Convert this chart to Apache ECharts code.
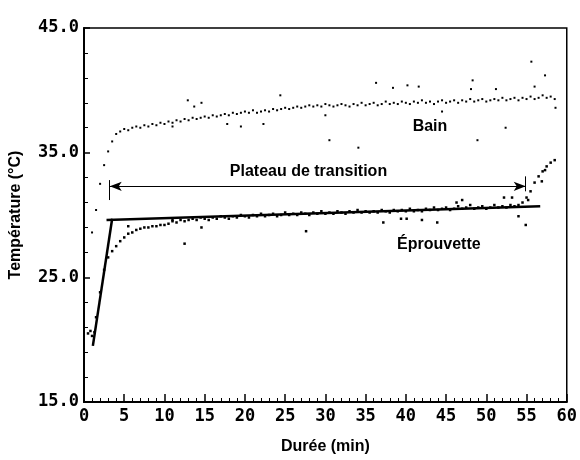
<!DOCTYPE html>
<html>
<head>
<meta charset="utf-8">
<script src="https://cdn.jsdelivr.net/npm/echarts@6/dist/echarts.min.js"></script>
<style>
  html, body { margin: 0; padding: 0; background: #fff; }
  #chart { width: 580px; height: 460px; }
</style>
</head>
<body>
<div id="chart"></div>
<script>
// temps en minutes (pas de 0.5 min)
var tempsMin = [0.5, 1.0, 1.5, 2.0, 2.5, 3.0, 3.5, 4.0, 4.5, 5.0, 5.5, 6.0, 6.5, 7.0, 7.5, 8.0, 8.5, 9.0, 9.5, 10.0,
  10.5, 11.0, 11.5, 12.0, 12.5, 13.0, 13.5, 14.0, 14.5, 15.0, 15.5, 16.0, 16.5, 17.0, 17.5, 18.0, 18.5, 19.0, 19.5, 20.0,
  20.5, 21.0, 21.5, 22.0, 22.5, 23.0, 23.5, 24.0, 24.5, 25.0, 25.5, 26.0, 26.5, 27.0, 27.5, 28.0, 28.5, 29.0, 29.5, 30.0,
  30.5, 31.0, 31.5, 32.0, 32.5, 33.0, 33.5, 34.0, 34.5, 35.0, 35.5, 36.0, 36.5, 37.0, 37.5, 38.0, 38.5, 39.0, 39.5, 40.0,
  40.5, 41.0, 41.5, 42.0, 42.5, 43.0, 43.5, 44.0, 44.5, 45.0, 45.5, 46.0, 46.5, 47.0, 47.5, 48.0, 48.5, 49.0, 49.5, 50.0,
  50.5, 51.0, 51.5, 52.0, 52.5, 53.0, 53.5, 54.0, 54.5, 55.0, 55.5, 56.0, 56.5, 57.0, 57.5, 58.0, 58.5]

// température du bain (°C)
var bain = [null, 28.6, 30.4, 32.5, 34.0, 35.1, 35.9, 36.5, 36.7, 36.9, 36.8, 37.0, 37.1, 37.0, 37.2, 37.1, 37.3, 37.2, 37.4, 37.3,
  37.5, 37.4, 37.6, 37.5, 37.7, 37.6, 37.8, 37.7, 37.8, 37.9, 37.8, 38.0, 37.9, 38.0, 38.1, 38.0, 38.2, 38.1, 38.2, 38.3,
  38.2, 38.4, 38.2, 38.3, 38.4, 38.3, 38.5, 38.4, 38.5, 38.6, 38.5, 38.6, 38.7, 38.6, 38.7, 38.8, 38.7, 38.8, 38.7, 38.9,
  38.8, 38.7, 38.8, 38.9, 38.8, 38.7, 38.9, 38.8, 39.0, 38.8, 38.9, 39.0, 38.8, 38.9, 39.1, 38.9, 39.0, 38.9, 39.1, 39.0,
  38.9, 39.1, 39.0, 39.2, 39.0, 39.1, 38.9, 39.1, 39.2, 39.0, 39.1, 39.2, 39.0, 39.2, 39.1, 39.3, 39.1, 39.2, 39.3, 39.1,
  39.2, 39.3, 39.2, 39.4, 39.2, 39.3, 39.4, 39.2, 39.4, 39.3, 39.5, 39.3, 39.4, 39.6, 39.4, 39.5, 39.3]

// points isolés du bain [min, °C]
var bainIsoles = [[11.0, 37.1], [12.9, 39.2], [13.7, 38.7], [14.6, 39.0], [17.8, 37.3], [19.5, 37.1], [22.3, 37.3],
  [24.4, 39.6], [30.0, 38.0], [30.5, 36.0], [34.1, 35.4], [36.3, 40.6], [38.4, 40.2], [40.2, 40.4], [41.6, 40.3],
  [44.5, 38.3], [48.3, 40.8], [48.1, 40.1], [48.9, 36.0], [51.2, 40.1], [52.4, 37.0], [55.6, 42.3], [57.3, 41.2],
  [56.0, 40.3], [58.6, 38.6]]

// température de l'éprouvette (°C)
var eprouvette = [20.5, 20.3, 21.8, 23.8, 25.6, 26.6, 27.1, 27.5, 27.9, 28.2, 28.5, 28.6, 28.8, 28.9, 29.0, 29.0, 29.1, 29.1, 29.2, 29.2,
  29.3, 29.5, 29.4, 29.6, 29.5, 29.6, 29.7, 29.6, 29.8, 29.7, 29.6, 29.8, 29.7, 29.9, 29.8, 29.7, 29.9, 29.8, 30.0, 29.9,
  29.8, 30.0, 29.9, 30.1, 29.9, 30.0, 30.1, 29.9, 30.0, 30.2, 30.0, 30.1, 30.0, 30.2, 30.1, 30.0, 30.2, 30.1, 30.3, 30.1,
  30.2, 30.1, 30.3, 30.2, 30.1, 30.3, 30.2, 30.4, 30.2, 30.3, 30.2, 30.3, 30.2, 30.4, 30.3, 30.2, 30.4, 30.3, 30.4, 30.3,
  30.5, 30.3, 30.4, 30.3, 30.5, 30.4, 30.6, 30.4, 30.5, 30.6, 30.4, 30.5, 30.7, 30.5, 30.6, 30.8, 30.5, 30.6, 30.7, 30.5,
  30.6, 30.8, 30.6, 30.7, 30.6, 30.8, 30.7, 30.8, 31.0, 31.4, 31.9, 32.6, 33.1, 33.5, 33.9, 34.2, 34.4]

// points isolés de l'éprouvette [min, °C]
var eprouvetteIsoles = [[0.8, 20.7], [1.3, 20.6], [5.5, 29.1], [11.0, 29.6], [12.5, 27.7], [14.6, 29.0], [27.6, 28.7],
  [37.2, 29.4], [39.4, 29.7], [40.1, 29.7], [42.0, 29.6], [43.9, 29.4], [46.3, 31.0], [47.0, 31.2], [52.2, 31.4],
  [53.2, 31.4], [54.0, 29.9], [54.9, 29.2], [55.2, 31.2], [56.9, 32.7], [57.3, 33.6]]

// droites d'ajustement
var montee = [[1.1, 19.5], [3.5, 29.7]]
var plateau = [[2.8, 29.6], [56.7, 30.7]]

// plateau de transition
var debutPlateau = 3.2
var finPlateau = 54.9
var flecheY = 32.3

var ticksX = [0, 60, 5]
var ticksY = [15, 45, 10]

var etiquettes = [
  { name: 'Bain', value: [43.0, 37.1] },
  { name: 'Plateau de transition', value: [27.9, 33.5] },
  { name: 'Éprouvette', value: [44.1, 27.6] }
]

var chart = echarts.init(document.getElementById('chart'))
var tickFont = { fontFamily: 'DejaVu Sans Mono', fontWeight: 'bold', fontSize: 17, color: '#000' }
var titleFont = { fontFamily: 'Liberation Sans', fontWeight: 'bold', fontSize: 16, color: '#000' }

function zipSeries(vals) {
  var out = []
  for (var i = 0; i < tempsMin.length; i++) {
    if (vals[i] != null) out.push([tempsMin[i], vals[i]])
  }
  return out
}

var dotStyle = { color: '#000', opacity: 1 }

chart.setOption({
  animation: false,
  backgroundColor: '#fff',
  grid: {
    left: 77, right: 11, top: 28, bottom: 57,
    show: true, borderColor: '#000', borderWidth: 1.5
  },
  xAxis: {
    type: 'value',
    min: ticksX[0], max: ticksX[1], interval: ticksX[2],
    name: 'Durée (min)', nameLocation: 'middle', nameGap: 37,
    nameTextStyle: titleFont,
    axisLine: { lineStyle: { color: '#000', width: 2 } },
    axisTick: { inside: true, length: 8, lineStyle: { color: '#000', width: 1.5 } },
    minorTick: { show: true, splitNumber: 5, length: 4, lineStyle: { color: '#000', width: 1 } },
    axisLabel: Object.assign({ margin: 6 }, tickFont),
    splitLine: { show: false }
  },
  yAxis: {
    type: 'value',
    min: ticksY[0], max: ticksY[1], interval: ticksY[2],
    name: 'Température (°C)', nameLocation: 'middle', nameGap: 60,
    nameTextStyle: titleFont,
    axisLine: { lineStyle: { color: '#000', width: 2 } },
    axisTick: { inside: true, length: 6, lineStyle: { color: '#000', width: 1.5 } },
    minorTick: { show: true, splitNumber: 5, length: 4, lineStyle: { color: '#000', width: 1 } },
    axisLabel: Object.assign({ margin: 5, formatter: function (v) { return v.toFixed(1) } }, tickFont),
    splitLine: { show: false }
  },
  series: [
    {
      type: 'scatter', data: zipSeries(bain).concat(bainIsoles),
      symbol: 'rect', symbolSize: 2, itemStyle: dotStyle, silent: true
    },
    {
      type: 'scatter', data: zipSeries(eprouvette).concat(eprouvetteIsoles),
      symbol: 'rect', symbolSize: 2.5, itemStyle: dotStyle, silent: true
    },
    {
      type: 'line', data: montee, showSymbol: false,
      lineStyle: { color: '#000', width: 2.5 }, silent: true
    },
    {
      type: 'line', data: plateau, showSymbol: false,
      lineStyle: { color: '#000', width: 2.5 }, silent: true,
      markLine: {
        silent: true,
        symbol: ['arrow', 'arrow'],
        symbolSize: [7, 12],
        label: { show: false },
        lineStyle: { color: '#000', width: 1, type: 'solid', opacity: 1 },
        data: [
          [{ coord: [debutPlateau, flecheY] }, { coord: [finPlateau, flecheY] }],
          [{ coord: [debutPlateau, flecheY - 1.1], symbol: 'none' }, { coord: [debutPlateau, flecheY + 0.5], symbol: 'none' }],
          [{ coord: [finPlateau, flecheY - 0.4], symbol: 'none' }, { coord: [finPlateau, flecheY + 0.8], symbol: 'none' }]
        ]
      }
    },
    {
      type: 'scatter', data: etiquettes, symbolSize: 0, silent: true,
      itemStyle: { opacity: 1 },
      label: Object.assign({
        show: true, position: 'inside', opacity: 1, formatter: function (p) { return p.name }
      }, titleFont)
    }
  ]
})
</script>
</body>
</html>
